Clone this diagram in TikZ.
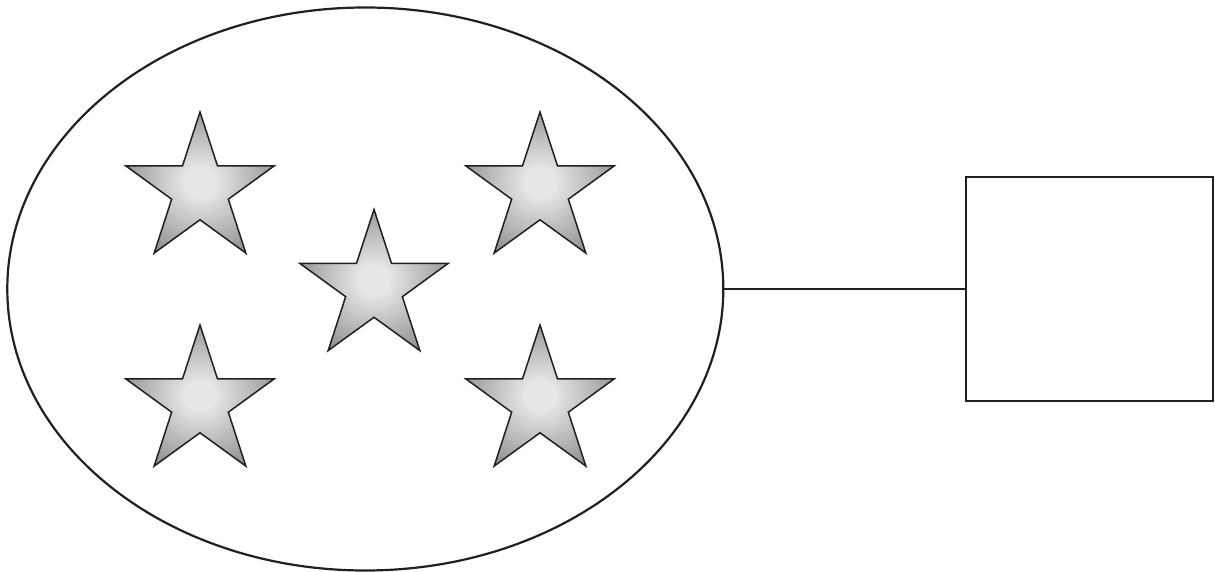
\documentclass[tikz,border=0pt]{standalone}
\usepackage{tikz}
\usetikzlibrary{shapes.geometric}
\definecolor{starlight}{HTML}{E6E8E8}
\definecolor{stardark}{HTML}{888888}
\definecolor{inkline}{HTML}{231F20}
\pgfdeclareradialshading{starglow}{\pgfpoint{0bp}{0bp}}{%
    color(0bp)=(starlight); color(5bp)=(starlight);
    color(30bp)=(stardark); color(50bp)=(stardark)}
\begin{document}
\begin{tikzpicture}[x=0.5pt, y=-0.5pt]

        % Fix the canvas to the reference size
        \useasboundingbox (0, 0) rectangle (1215, 572);

        % 1. Styles for the pieces
        \tikzset{
            blob/.style={draw=inkline, line width=1.1pt, ellipse, inner sep=0pt,
                minimum width=358pt, minimum height=281.5pt},
            boxnode/.style={draw=inkline, line width=1.1pt, rectangle, inner sep=0pt,
                minimum width=123.5pt, minimum height=111.7pt},
            starnode/.style={draw=inkline, line width=0.75pt, star, star points=5,
                star point ratio=2.618, inner sep=0pt, minimum size=78pt,
                shading=starglow}
        }

        % 2. The ellipse and the box
        \node[blob] (Set) at (365.3, 289) {};
        \node[boxnode] (Box) at (1089.6, 289) {};

        % 3. The five stars inside the ellipse
        \node[starnode] (StarA) at (200, 190) {};
        \node[starnode] (StarB) at (540, 190) {};
        \node[starnode] (StarC) at (374, 287.5) {};
        \node[starnode] (StarD) at (200, 403) {};
        \node[starnode] (StarE) at (540, 403) {};

        % 4. Link from the ellipse to the box
        \draw[inkline, line width=1.1pt] (Set.east) -- (Box.west);

    \end{tikzpicture}
\end{document}
